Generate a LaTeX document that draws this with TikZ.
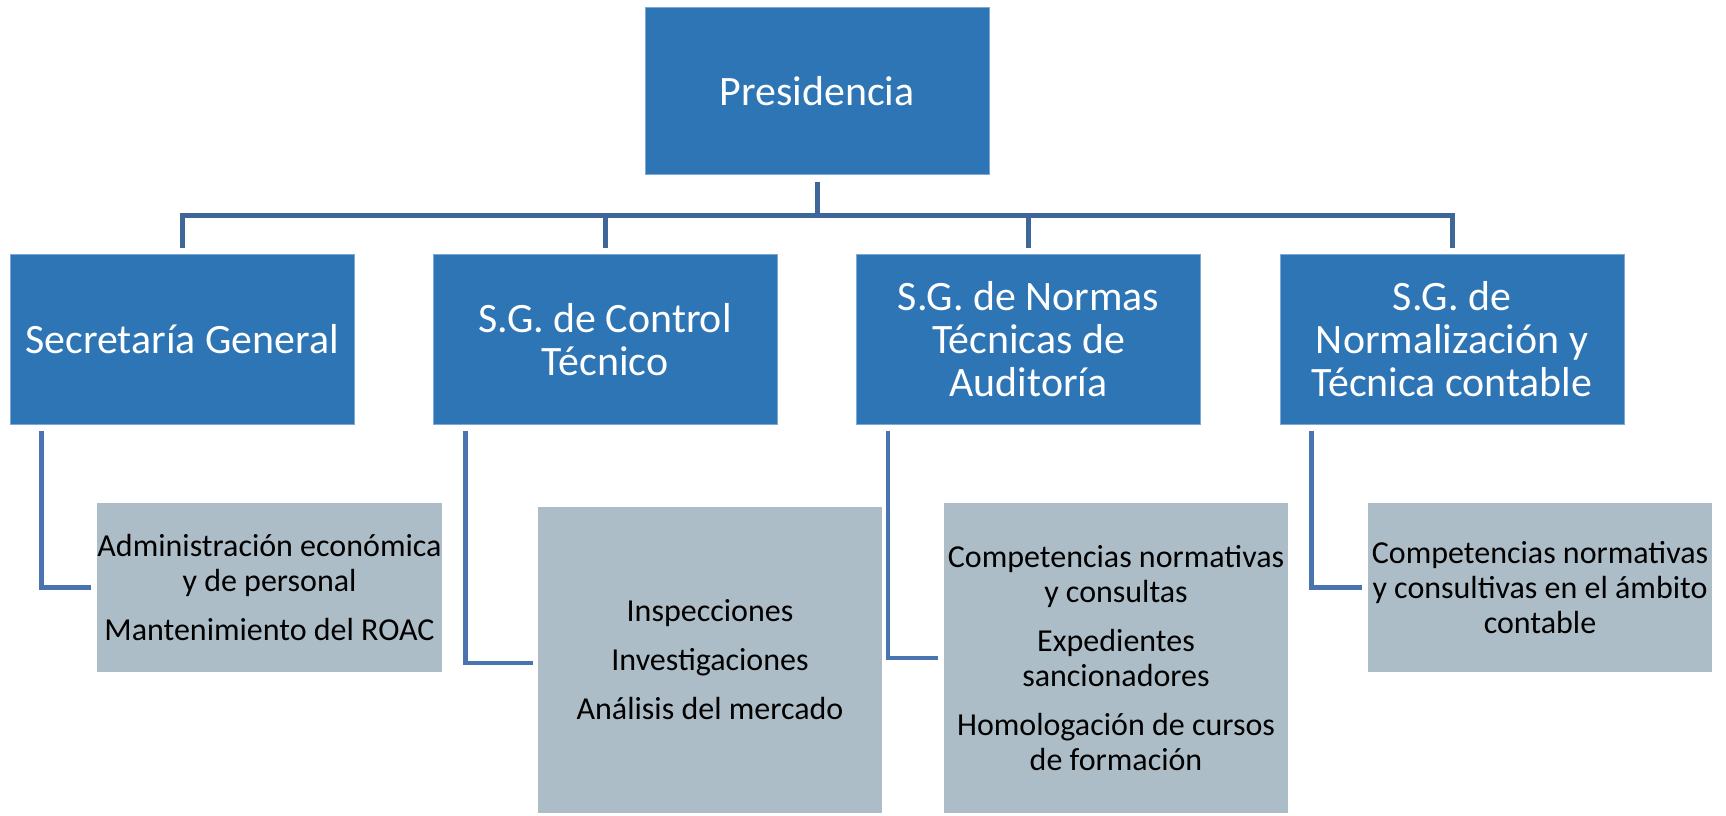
\documentclass[tikz,border=0pt]{standalone}
\usepackage{fontspec}
\setmainfont{Carlito}
\definecolor{boxblue}{HTML}{2E75B6}
\definecolor{boxedge}{HTML}{7FA8D6}
\definecolor{boxgray}{HTML}{ADBDC7}
\definecolor{treeline}{HTML}{3E6699}
\definecolor{elbowline}{HTML}{4A74B0}
% sizes in pt: 1px of the layout = 0.75pt
\tikzset{
  unitbox/.style={fill=boxblue, draw=boxedge, line width=0.75pt, text=white,
    minimum width=258pt, minimum height=126.75pt, inner sep=0pt, align=center,
    font=\fontsize{31.4}{32.25}\selectfont},
  taskbox/.style={fill=boxgray, draw=none, text=black,
    minimum width=258pt, inner sep=0pt, align=center,
    font=\fontsize{24}{26.25}\selectfont},
  tree/.style={draw=treeline, line width=3.75pt},
  elbow/.style={draw=elbowline, line width=3.4pt}
}
\begin{document}
\begin{tikzpicture}[x=0.75pt,y=-0.75pt]
  \useasboundingbox (0,0) rectangle (1726,816);
  % top
  \node[unitbox, minimum height=125.25pt] (pres) at (817,91.5) {Presidencia};
  % second level
  \node[unitbox] (secgen) at (182,339.5) {Secretaría General};
  \node[unitbox] (ctrl) at (605,339.5) {S.G. de Control\\Técnico};
  \node[unitbox] (normas) at (1028.5,339.5) {S.G. de Normas\\Técnicas de\\Auditoría};
  \node[unitbox] (normaliz) at (1452,339.5) {S.G. de\\Normalización y\\Técnica contable};
  % tasks
  \node[taskbox, minimum height=126.75pt] (adm) at (269.5,587.5)
    {Administración económica\\y de personal\\[10.5pt]Mantenimiento del ROAC};
  \node[taskbox, minimum height=229.5pt] (insp) at (710,660)
    {Inspecciones\\[10.5pt]Investigaciones\\[10.5pt]Análisis del mercado};
  \node[taskbox, minimum height=232.5pt] (comp) at (1116,658)
    {Competencias normativas\\y consultas\\[10.5pt]Expedientes\\sancionadores\\[10.5pt]Homologación de cursos\\de formación};
  \node[taskbox, minimum height=126.75pt] (contab) at (1540,587.5)
    {Competencias normativas\\y consultivas en el ámbito\\contable};
  % tree
  \coordinate (hub) at (817,215.5);
  \draw[tree] ([yshift=-5.25pt]pres.south) -- (hub);
  \foreach \c in {secgen,ctrl,normas,normaliz}
    \draw[tree] (hub) -| ([yshift=4.5pt]\c.north);
  % elbows
  \draw[elbow] ([xshift=24pt,yshift=-4.5pt]secgen.south west) |- ([xshift=-4.5pt]adm.west);
  \draw[elbow] ([xshift=24.75pt,yshift=-4.5pt]ctrl.south west) |- ([xshift=-3.75pt,yshift=-2.25pt]insp.west);
  \draw[elbow] ([xshift=24pt,yshift=-4.5pt]normas.south west) |- ([xshift=-4.5pt]comp.west);
  \draw[elbow] ([xshift=24pt,yshift=-4.5pt]normaliz.south west) |- ([xshift=-4.5pt]contab.west);
\end{tikzpicture}
\end{document}
